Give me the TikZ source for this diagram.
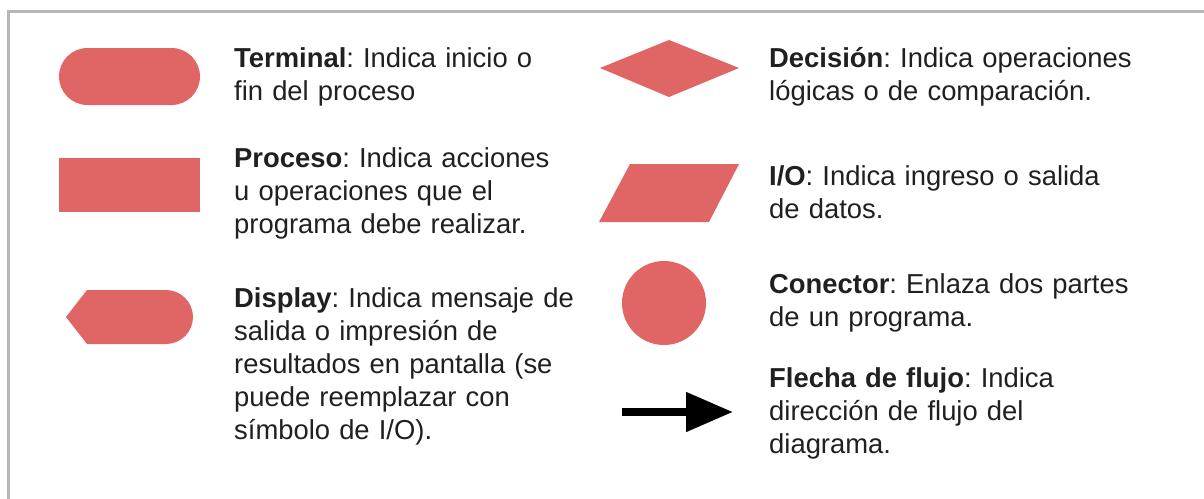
\documentclass[tikz,border=0pt]{standalone}
\usepackage{fontspec}
\setmainfont{Liberation Sans}
\usetikzlibrary{arrows.meta}
\definecolor{shapered}{HTML}{E06666}
\definecolor{framegray}{HTML}{B7B7B7}
\definecolor{txt}{HTML}{202020}
\tikzset{
  symbol/.style={fill=shapered, draw=none},
  desc/.style={anchor=base west, inner sep=0pt, text width=400pt, align=left,
    text=txt, font=\fontsize{27.4}{33}\selectfont\frenchspacing},
  flow/.style={line width=8pt, -{Triangle[length=47pt,width=38pt]}, black}
}
\begin{document}
\begin{tikzpicture}[x=1pt,y=-1pt]
\useasboundingbox (0,0) rectangle (1204,498);
\fill[white] (0,0) rectangle (1204,498);
% frame
\draw[framegray, line width=3pt] (8,500) -- (8,11) -- (1206,11);
% left column symbols
\fill[symbol, rounded corners=28.5pt] (59,48) rectangle (200,105);
\fill[symbol] (59,158) rectangle (200,212);
\fill[symbol] (66,317) -- (87,290) {[rounded corners=27pt] -- (193,290) -- (193,344)} -- (87,344) -- cycle;
% right column symbols
\fill[symbol] (600,68) -- (669,40) -- (739,68) -- (669,97) -- cycle;
\fill[symbol] (630,164) -- (739,164) -- (709,222) -- (599,222) -- cycle;
\fill[symbol] (664,303) circle[radius=42];
\coordinate (fa) at (622,412);
\coordinate (fb) at (733,412);
\draw[flow] (fa) -- (fb);
% texts
\node[desc] (tterm) at (234,67) {\textbf{Terminal}: Indica inicio o\\fin del proceso};
\node[desc] (tproc) at (234,167) {\textbf{Proceso}: Indica acciones\\u operaciones que el\\programa debe realizar.};
\node[desc] (tdisp) at (234,307) {\textbf{Display}: Indica mensaje de\\salida o impresión de\\resultados en pantalla (se\\puede reemplazar con\\símbolo de I/O).};
\node[desc] (tdec) at (769,67) {\textbf{Decisión}: Indica operaciones\\lógicas o de comparación.};
\node[desc] (tio) at (769,185) {\textbf{I/O}: Indica ingreso o salida\\de datos.};
\node[desc] (tcon) at (769,293) {\textbf{Conector}: Enlaza dos partes\\de un programa.};
\node[desc] (tflu) at (769,387) {\textbf{Flecha de flujo}: Indica\\dirección de flujo del\\diagrama.};
\end{tikzpicture}
\end{document}
